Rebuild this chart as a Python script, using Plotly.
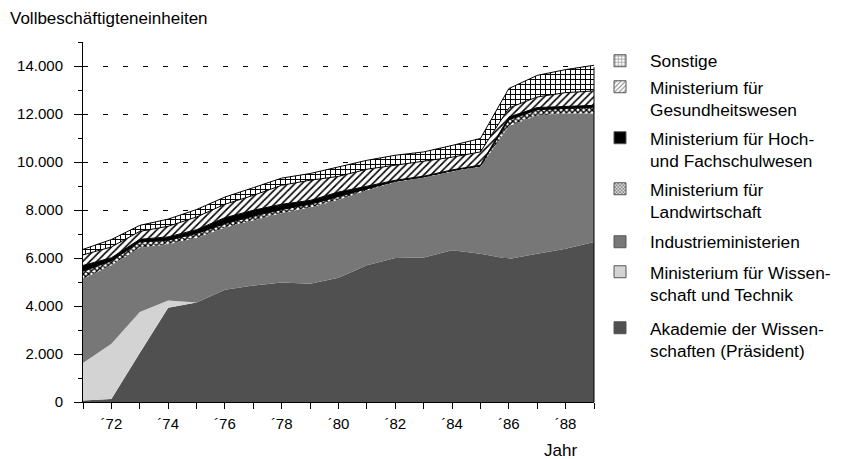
import plotly.graph_objects as go

years = list(range(1971, 1990))

akademie = [60, 130, 2040, 3930, 4150, 4680, 4850, 4980, 4930, 5180, 5700, 6000, 6020, 6320, 6180, 5960, 6180, 6390, 6670]
wissenschaft_technik = [1560, 2300, 1710, 300, 0, 0, 0, 0, 0, 0, 0, 0, 0, 0, 0, 0, 0, 0, 0]
industrie = [3520, 3270, 2680, 2340, 2680, 2590, 2720, 2900, 3170, 3250, 3120, 3170, 3330, 3280, 3620, 5540, 5770, 5630, 5350]
landwirtschaft = [310, 180, 240, 170, 190, 160, 170, 140, 140, 130, 70, 30, 30, 40, 40, 260, 230, 220, 260]
hochschule = [240, 130, 110, 140, 160, 250, 250, 220, 160, 190, 100, 40, 30, 30, 30, 110, 90, 80, 80]
gesundheit = [440, 450, 330, 440, 530, 560, 620, 790, 840, 650, 710, 620, 620, 530, 550, 380, 440, 570, 600]
sonstige = [230, 310, 250, 300, 310, 300, 320, 300, 280, 380, 370, 420, 390, 490, 560, 810, 900, 960, 1070]

y_tickvals = [0, 2000, 4000, 6000, 8000, 10000, 12000, 14000]
y_ticktext = ["0", "2.000", "4.000", "6.000", "8.000", "10.000", "12.000", "14.000"]
x_tickvals = years
x_ticktext = ["´%02d" % (y % 100) if y % 2 == 0 else "" for y in years]

FONT = "Liberation Sans, Arial, sans-serif"

# page is drawn with an 8px body offset
W, H = 856, 451
ML, MT, MR, MB = 75, 34, 270, 57
PW = W - ML - MR
PH = H - MT - MB

series = [
    ("Akademie der Wissen-<br>schaften (Präsident)", akademie, dict(fill="#505050", line=0, lc="#505050", pattern=None)),
    ("Ministerium für Wissen-<br>schaft und Technik", wissenschaft_technik, dict(fill="#d3d3d3", line=0, lc="#d3d3d3", pattern=None)),
    ("Industrieministerien", industrie, dict(fill="#777777", line=0, lc="#777777", pattern=None)),
    ("Ministerium für<br>Landwirtschaft", landwirtschaft, dict(fill="white", line=1, lc="black", pattern=dict(shape="x", size=4, solidity=0.6))),
    ("Ministerium für Hoch-<br>und Fachschulwesen", hochschule, dict(fill="black", line=1, lc="black", pattern=None)),
    ("Ministerium für<br>Gesundheitswesen", gesundheit, dict(fill="white", line=1, lc="black", pattern=dict(shape="/", size=5, solidity=0.32))),
    ("Sonstige", sonstige, dict(fill="white", line=1, lc="black", pattern=dict(shape="+", size=5, solidity=0.35))),
]

fig = go.Figure()
for name, vals, st in series:
    kw = dict(x=years, y=vals, name=name, stackgroup="one", mode="lines",
              line=dict(width=st["line"], color=st["lc"]), fillcolor=st["fill"],
              showlegend=False, hoverinfo="skip")
    if st["pattern"]:
        kw["fillpattern"] = dict(shape=st["pattern"]["shape"], size=st["pattern"]["size"],
                                 solidity=st["pattern"]["solidity"], fgcolor="black",
                                 bgcolor="white", fillmode="replace")
    fig.add_trace(go.Scatter(**kw))

# legend: one small legend per entry, top to bottom
legend_first_line_px = [53, 79, 130, 181, 234, 264, 320]  # figure px of first text line
legend_layouts = {}
legend_left_px = 582
for i, (name, vals, st) in enumerate(reversed(series)):
    key = "legend" if i == 0 else "legend%d" % (i + 1)
    marker = dict(color=st["fill"], line=dict(color="#555555", width=1))
    if st["pattern"]:
        marker["pattern"] = dict(shape=st["pattern"]["shape"], size=st["pattern"]["size"] - 1,
                                 solidity=st["pattern"]["solidity"], fgcolor="black", bgcolor="white")
    fig.add_trace(go.Bar(x=[None], y=[None], name=name, marker=marker, showlegend=True,
                         hoverinfo="skip", legend=key))
    top_px = legend_first_line_px[i] - 18
    legend_layouts[key] = dict(
        x=(legend_left_px - ML) / PW, y=(H - MB - top_px) / PH,
        xanchor="left", yanchor="top", valign="top", itemwidth=50,
        font=dict(family=FONT, size=17.3, color="black"), bgcolor="rgba(0,0,0,0)")

fig.update_layout(
    width=W, height=H,
    margin=dict(l=ML, r=MR, t=MT, b=MB, autoexpand=False),
    paper_bgcolor="white", plot_bgcolor="white",
    font=dict(family=FONT, size=15, color="black"),
    showlegend=True,
    xaxis=dict(type="linear", range=[1971, 1989], tickvals=x_tickvals, ticktext=x_ticktext,
               ticks="outside", ticklen=6, tickcolor="black", tickwidth=1,
               showline=True, linecolor="black", linewidth=1, showgrid=False, zeroline=False,
               tickfont=dict(family=FONT, size=15), ticklabelstandoff=2),
    yaxis=dict(range=[0, 15000], tickvals=y_tickvals, ticktext=y_ticktext,
               ticks="outside", ticklen=8, tickcolor="black", tickwidth=1,
               minor=dict(dtick=1000, tick0=0, ticks="outside", ticklen=4, tickcolor="black", showgrid=False),
               showline=True, linecolor="black", linewidth=1,
               showgrid=True, gridcolor="black", gridwidth=1, griddash="5px,15px",
               zeroline=False, tickfont=dict(family=FONT, size=15), ticklabelstandoff=8),
    shapes=[dict(type="line", xref="x domain", yref="y domain", x0=1, x1=1, y0=0, y1=0.93,
                 line=dict(color="black", width=1))],
    annotations=[
        dict(text="Vollbeschäftigteneinheiten", xref="paper", yref="paper",
             x=(0 - ML) / PW, y=(H - MB - 10) / PH, xanchor="left", yanchor="middle", showarrow=False,
             font=dict(family=FONT, size=17)),
        dict(text="Jahr", xref="paper", yref="paper", x=(571 - ML) / PW, y=(H - MB - 442) / PH,
             xanchor="right", yanchor="middle", showarrow=False,
             font=dict(family=FONT, size=17)),
    ],
    **legend_layouts,
)

fig.write_html("out.html")
